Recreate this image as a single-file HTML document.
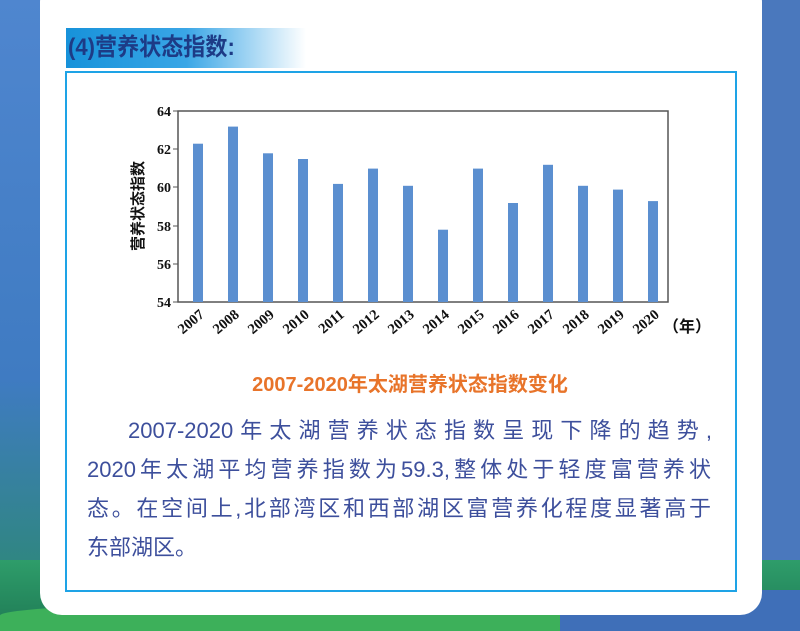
<!DOCTYPE html>
<html><head><meta charset="utf-8"><style>
body{margin:0;width:800px;height:631px;overflow:hidden;position:relative;background:#4a78bd;font-family:"Liberation Sans","Noto Sans CJK SC",sans-serif}
.a{position:absolute}
.line{position:absolute;font-size:22px;color:#3d4f9c;white-space:nowrap;text-align:justify;text-align-last:justify;height:30px;line-height:30px}
</style></head><body>
<div class="a" style="left:0;top:0;width:40px;height:631px;background:linear-gradient(#4f86cf,#3f7bc2 60%,#2a8a6a)"></div>
<div class="a" style="left:0;top:560px;width:800px;height:71px;background:linear-gradient(#2e9d6a,#1f7a55)"></div>
<div class="a" style="left:0;top:600px;width:800px;height:31px;background:#3db05a;border-radius:50% 50% 0 0"></div>
<div class="a" style="left:560px;top:590px;width:240px;height:41px;background:#3f6fb8;border-radius:40% 0 0 0"></div>
<div class="a" style="left:40px;top:-20px;width:722px;height:635px;background:#fff;border-radius:22px"></div>
<div class="a" style="left:66px;top:28px;width:240px;height:40px;background:linear-gradient(90deg,#1792da,#3aa6e6 50%,rgba(255,255,255,0))"></div>
<div class="a" style="left:68px;top:29px;height:38px;line-height:38px;font-size:24px;font-weight:bold;color:#1d3b86;transform:scaleX(0.92);transform-origin:left">(4)营养状态指数:</div>
<div class="a" style="left:65px;top:71px;width:668px;height:517px;border:2px solid #1ea3e6"></div>
<svg class="a" style="left:0;top:0" width="800" height="631">
<rect x="178" y="111" width="490" height="191" fill="none" stroke="#555" stroke-width="1.5"/>
<g font-family="Liberation Serif,serif" font-weight="bold" font-size="14" fill="#111" text-anchor="end">
<text x="171" y="116">64</text><text x="171" y="154">62</text><text x="171" y="192">60</text><text x="171" y="231">58</text><text x="171" y="269">56</text><text x="171" y="307">54</text>
</g>
<g stroke="#555" stroke-width="1"><line x1="173" y1="111" x2="178" y2="111"/><line x1="173" y1="149" x2="178" y2="149"/><line x1="173" y1="187" x2="178" y2="187"/><line x1="173" y1="226" x2="178" y2="226"/><line x1="173" y1="264" x2="178" y2="264"/><line x1="173" y1="302" x2="178" y2="302"/></g>
<g fill="#5b8fd0">
<rect x="193" y="143.7" width="10" height="158.3"/>
<rect x="228" y="126.6" width="10" height="175.4"/>
<rect x="263" y="153.3" width="10" height="148.7"/>
<rect x="298" y="159.0" width="10" height="143"/>
<rect x="333" y="183.9" width="10" height="118.1"/>
<rect x="368" y="168.6" width="10" height="133.4"/>
<rect x="403" y="185.8" width="10" height="116.2"/>
<rect x="438" y="229.7" width="10" height="72.3"/>
<rect x="473" y="168.6" width="10" height="133.4"/>
<rect x="508" y="203.0" width="10" height="99"/>
<rect x="543" y="164.8" width="10" height="137.2"/>
<rect x="578" y="185.8" width="10" height="116.2"/>
<rect x="613" y="189.6" width="10" height="112.4"/>
<rect x="648" y="201.1" width="10" height="100.9"/>
</g>
<g font-family="Liberation Serif,serif" font-weight="bold" font-size="14.5" fill="#111" text-anchor="end">
<text transform="translate(205,316) rotate(-40)">2007</text>
<text transform="translate(240,316) rotate(-40)">2008</text>
<text transform="translate(275,316) rotate(-40)">2009</text>
<text transform="translate(310,316) rotate(-40)">2010</text>
<text transform="translate(345,316) rotate(-40)">2011</text>
<text transform="translate(380,316) rotate(-40)">2012</text>
<text transform="translate(415,316) rotate(-40)">2013</text>
<text transform="translate(450,316) rotate(-40)">2014</text>
<text transform="translate(485,316) rotate(-40)">2015</text>
<text transform="translate(520,316) rotate(-40)">2016</text>
<text transform="translate(555,316) rotate(-40)">2017</text>
<text transform="translate(590,316) rotate(-40)">2018</text>
<text transform="translate(625,316) rotate(-40)">2019</text>
<text transform="translate(660,316) rotate(-40)">2020</text>
</g>
<text x="663" y="332" font-size="16" font-weight="bold" fill="#111" font-family="Liberation Sans,Noto Sans CJK SC,sans-serif">（年）</text>
<text transform="translate(143,206) rotate(-90)" text-anchor="middle" font-size="15" font-weight="bold" fill="#111" font-family="Noto Sans CJK SC,sans-serif">营养状态指数</text>
</svg>
<div class="a" style="left:0;width:800px;text-align:center;top:368px;font-size:20px;font-weight:bold;color:#e8742a;padding-left:20px;box-sizing:border-box">2007-2020年太湖营养状态指数变化</div>
<div class="line" style="left:128px;top:416px;width:584px">2007-2020年太湖营养状态指数呈现下降的趋势,</div>
<div class="line" style="left:87px;top:455px;width:624px">2020年太湖平均营养指数为59.3,整体处于轻度富营养状</div>
<div class="line" style="left:87px;top:494px;width:624px">态。在空间上,北部湾区和西部湖区富营养化程度显著高于</div>
<div class="line" style="left:87px;top:533px;text-align:left;text-align-last:left">东部湖区。</div>
</body></html>
